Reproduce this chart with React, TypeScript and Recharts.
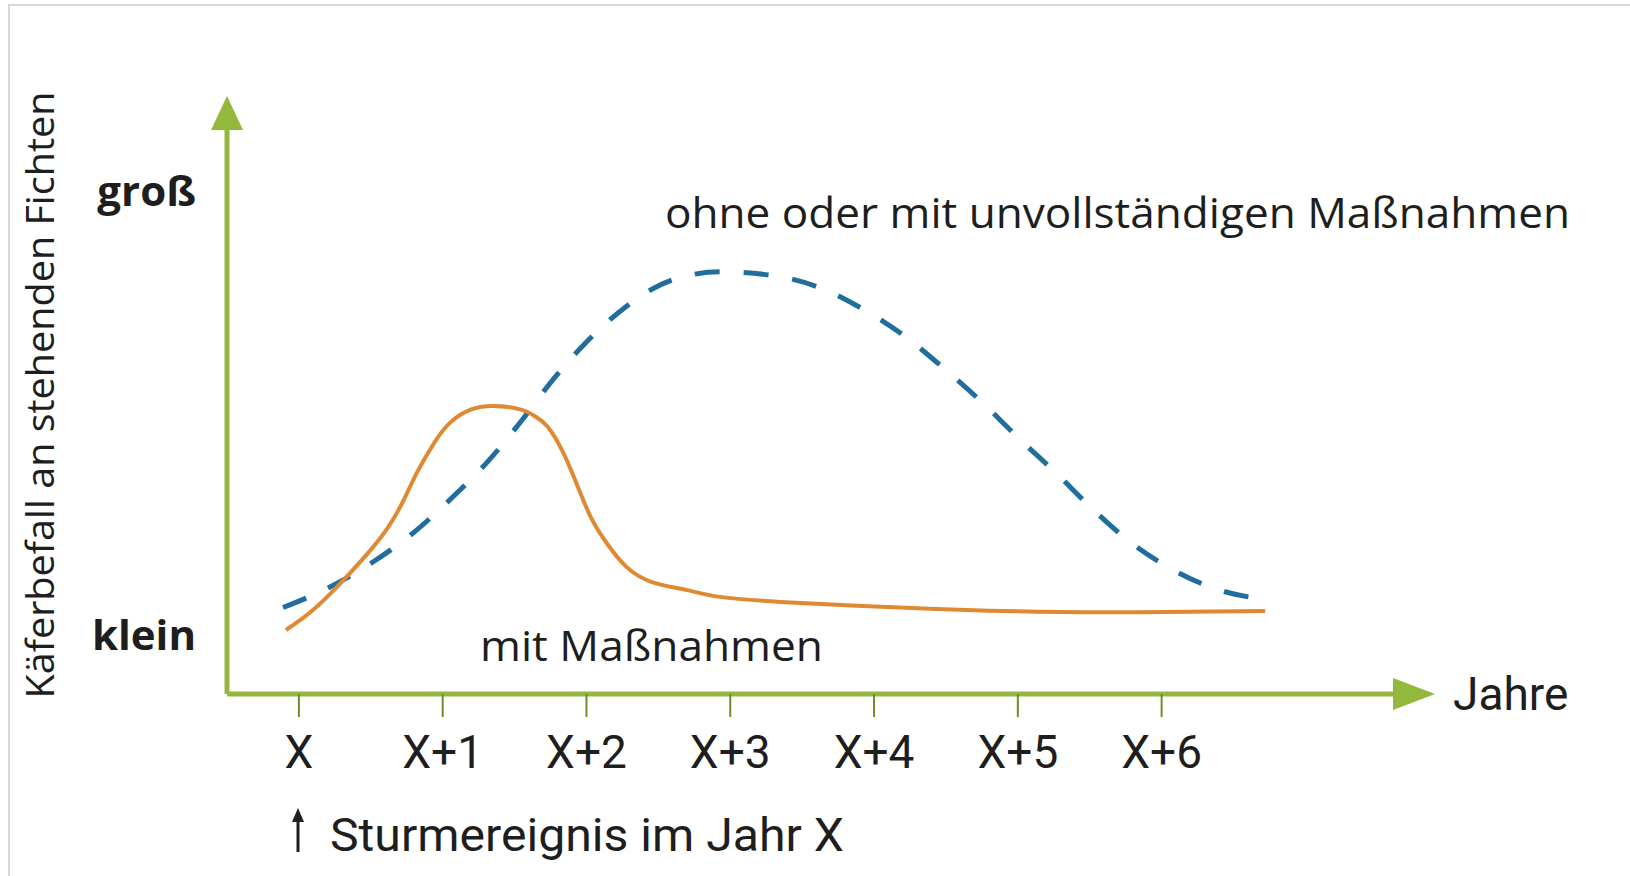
import React from 'react';
import { LineChart, Line, XAxis, YAxis } from 'recharts';

// years after the storm event
const yearTicks = [0, 1, 2, 3, 4, 5, 6];
const yearLabels = ['X', 'X+1', 'X+2', 'X+3', 'X+4', 'X+5', 'X+6'];

// infestation level (relative index, 0 = none)
const levelTicks = [10.5, 89.5];
const levelLabels = ['klein', 'groß'];

// "mit Maßnahmen" (solid orange)
const mitX = [-0.09, 0.1, 0.31, 0.48, 0.62, 0.73, 0.82, 0.94, 1.05, 1.19, 1.35, 1.54, 1.64, 1.73, 1.84, 1.94, 2.03, 2.14, 2.28, 2.46, 2.7, 2.93, 3.35, 3.88, 4.59, 5.3, 6.01, 6.72];
const mitY = [11.4, 15.0, 20.3, 25.1, 29.7, 34.6, 39.4, 44.7, 48.3, 50.6, 51.3, 50.7, 49.5, 47.6, 42.9, 36.9, 31.5, 26.9, 22.6, 19.9, 18.5, 17.3, 16.4, 15.7, 15.0, 14.6, 14.6, 14.8];

// "ohne oder mit unvollständigen Maßnahmen" (dashed blue)
const ohneX = [-0.11, 0.22, 0.52, 0.8, 1.05, 1.31, 1.54, 1.77, 2.0, 2.27, 2.58, 2.93, 3.28, 3.61, 3.92, 4.22, 4.49, 4.75, 5.0, 5.26, 5.51, 5.78, 6.08, 6.39, 6.73];
const ohneY = [15.4, 19.1, 23.6, 28.8, 34.6, 41.3, 48.4, 56.1, 62.7, 68.9, 73.6, 75.2, 74.6, 72.5, 68.6, 63.6, 57.9, 52.0, 45.7, 39.5, 33.2, 27.1, 22.1, 18.6, 16.8];

const mitData = mitX.map((x, i) => ({ x, y: mitY[i] }));
const ohneData = ohneX.map((x, i) => ({ x, y: ohneY[i] }));

const GREEN = '#93b83c';
const TEXT = '#1e1e1e';

export default function App() {
  return (
    <div style={{ position: 'absolute', left: 0, top: 0, width: 1630, height: 876, background: '#fff' }}>
      <div
        style={{
          position: 'absolute',
          left: 8,
          top: 4,
          width: 1622,
          height: 872,
          borderTop: '2px solid #d8d8d8',
          borderLeft: '2px solid #d8d8d8',
        }}
      />
      <svg width={0} height={0} style={{ position: 'absolute' }}>
        <defs>
          <marker id="arrowX" viewBox="0 0 42 32" refX={3} refY={16} markerWidth={42} markerHeight={32} markerUnits="userSpaceOnUse" orient="auto-start-reverse">
            <path d="M0,0 L42,16 L0,32 z" fill={GREEN} />
          </marker>
          <marker id="arrowY" viewBox="0 0 34 32" refX={3} refY={16} markerWidth={34} markerHeight={32} markerUnits="userSpaceOnUse" orient="auto-start-reverse">
            <path d="M0,0 L34,16 L0,32 z" fill={GREEN} />
          </marker>
        </defs>
      </svg>
      <div style={{ position: 'absolute', left: 0, top: 0 }}>
        <LineChart width={1630} height={876} margin={{ top: 127, right: 234, bottom: 82, left: 0 }}>
          <XAxis
            dataKey="x"
            type="number"
            domain={[-0.5, 7.63]}
            ticks={yearTicks}
            interval={0}
            tickFormatter={(v) => yearLabels[yearTicks.indexOf(v)]}
            height={100}
            tickSize={23}
            tickMargin={18}
            tick={{ fill: TEXT, fontSize: 46, fontFamily: 'Roboto' }}
            tickLine={{ stroke: '#6d8c2c', strokeWidth: 2 }}
            axisLine={{ stroke: GREEN, strokeWidth: 5, markerEnd: 'url(#arrowX)' }}
          />
          <YAxis
            dataKey="y"
            type="number"
            domain={[0, 101]}
            ticks={levelTicks}
            interval={0}
            tickFormatter={(v) => levelLabels[levelTicks.indexOf(v)]}
            width={227}
            tickSize={0}
            tickMargin={31}
            tickLine={false}
            tick={{ fill: TEXT, fontSize: 42, fontFamily: 'Open Sans', fontWeight: 700 }}
            axisLine={{ stroke: GREEN, strokeWidth: 5, markerStart: 'url(#arrowY)' }}
          />
          <Line
            data={ohneData}
            dataKey="y"
            type="monotone"
            stroke="#1f6e9e"
            strokeWidth={5}
            strokeDasharray="25 24"
            dot={false}
            activeDot={false}
            isAnimationActive={false}
          />
          <Line
            data={mitData}
            dataKey="y"
            type="natural"
            stroke="#df8a33"
            strokeWidth={4}
            dot={false}
            activeDot={false}
            isAnimationActive={false}
          />
        </LineChart>
      </div>
      <svg width={1630} height={876} style={{ position: 'absolute', left: 0, top: 0, pointerEvents: 'none' }}>
        <text
          transform="translate(54,395) rotate(-90)"
          textAnchor="middle"
          fontFamily="Open Sans"
          fontSize={39}
          textLength={607}
          lengthAdjust="spacingAndGlyphs"
          fill={TEXT}
        >
          Käferbefall an stehenden Fichten
        </text>
        <text x={665} y={228} fontFamily="Open Sans" fontSize={42} textLength={905} lengthAdjust="spacingAndGlyphs" fill={TEXT}>
          ohne oder mit unvollständigen Maßnahmen
        </text>
        <text x={480} y={661} fontFamily="Open Sans" fontSize={42} textLength={343} lengthAdjust="spacingAndGlyphs" fill={TEXT}>
          mit Maßnahmen
        </text>
        <text x={1453} y={710} fontFamily="Roboto" fontSize={46} fill={TEXT}>
          Jahre
        </text>
        <path d="M298,852 L298,816" stroke={TEXT} strokeWidth={3} />
        <path d="M292,822 L298,808 L304,822 z" fill={TEXT} />
        <text x={330} y={851} fontFamily="Roboto" fontSize={46} textLength={514} lengthAdjust="spacingAndGlyphs" fill={TEXT}>
          Sturmereignis im Jahr X
        </text>
      </svg>
    </div>
  );
}
